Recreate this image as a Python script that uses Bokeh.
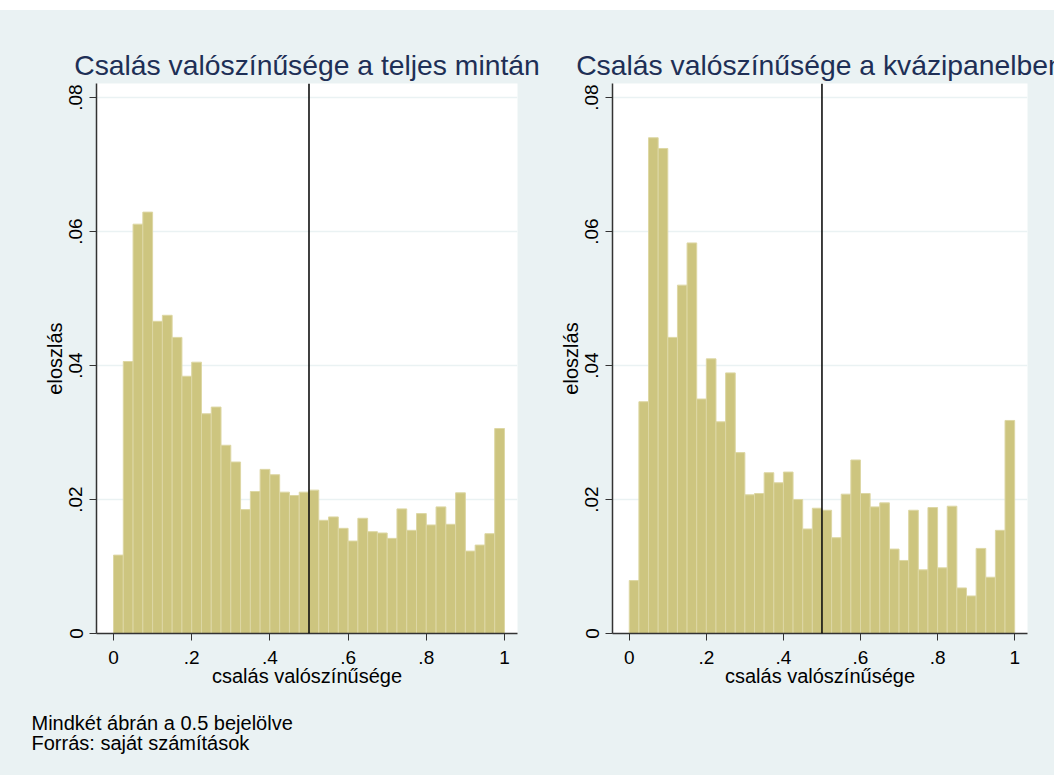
from bokeh.plotting import figure
from bokeh.models import Range1d, FixedTicker, Span, Title, ColumnDataSource, Spacer
from bokeh.layouts import row, column
from bokeh.embed import file_html
from bokeh.resources import INLINE

# ---- data ----
bin_width = 0.025
n_bins = 40

density_full = [0.0117, 0.0406, 0.0611, 0.0629, 0.0466, 0.0475, 0.0442, 0.0384,
                0.0405, 0.0328, 0.0338, 0.0281, 0.0256, 0.0185, 0.0212, 0.0245,
                0.0237, 0.0211, 0.0206, 0.0211, 0.0214, 0.0169, 0.0174, 0.0157,
                0.0138, 0.0172, 0.0152, 0.0150, 0.0142, 0.0186, 0.0154, 0.0179,
                0.0162, 0.0189, 0.0163, 0.0210, 0.0123, 0.0132, 0.0149, 0.0306]

density_panel = [0.0079, 0.0346, 0.0740, 0.0724, 0.0442, 0.0520, 0.0583, 0.0350,
                 0.0410, 0.0316, 0.0389, 0.0270, 0.0207, 0.0209, 0.0240, 0.0225,
                 0.0241, 0.0200, 0.0156, 0.0187, 0.0184, 0.0143, 0.0208, 0.0259,
                 0.0209, 0.0189, 0.0195, 0.0126, 0.0109, 0.0184, 0.0095, 0.0188,
                 0.0098, 0.0190, 0.0068, 0.0056, 0.0127, 0.0084, 0.0154, 0.0318]

x_ticks = [0, 0.2, 0.4, 0.6, 0.8, 1.0]
x_tick_labels = ["0", ".2", ".4", ".6", ".8", "1"]
y_ticks = [0, 0.02, 0.04, 0.06, 0.08]
y_tick_labels = ["0", ".02", ".04", ".06", ".08"]

titles = ["Csalás valószínűsége a teljes mintán", "Csalás valószínűsége a kvázipanelben"]
x_label = "csalás valószínűsége"
y_label = "eloszlás"
marker_at = 0.5
notes = ["Mindkét ábrán a 0.5 bejelölve", "Forrás: saját számítások"]

# ---- style ----
BG = "#EAF2F3"
BAR_FILL = "#CDC57F"
BAR_LINE = "#DDD7A4"
TITLE_COLOR = "#1E2F56"
FONT = "Liberation Sans"
TOP_BAND = 10
HEIGHT = 775 - TOP_BAND
FRAME_TOP = 83 - TOP_BAND
FRAME_H = 551


def make_panel(title, dens, width, mb_left, mb_right, footnotes=None):
    left = [i * bin_width for i in range(n_bins)]
    right = [(i + 1) * bin_width for i in range(n_bins)]
    src = ColumnDataSource(dict(left=left, right=right, top=dens, bottom=[0] * n_bins))

    p = figure(width=width, height=HEIGHT, output_backend="svg", toolbar_location=None,
               x_range=Range1d(-0.0435, 1.0333), y_range=Range1d(0, 0.0821),
               min_border_left=mb_left, min_border_right=mb_right,
               min_border_top=FRAME_TOP, min_border_bottom=HEIGHT - FRAME_TOP - FRAME_H)
    p.background_fill_color = "white"
    p.border_fill_color = BG
    p.outline_line_color = None

    p.quad(left="left", right="right", top="top", bottom="bottom", source=src,
           fill_color=BAR_FILL, line_color=BAR_LINE, line_width=1)

    p.add_layout(Span(location=marker_at, dimension="height", line_color="black",
                      line_width=1.5))

    p.title.text = title
    p.title.align = "center"
    p.title.text_font = FONT
    p.title.text_font_size = "28.3px"
    p.title.text_font_style = "normal"
    p.title.text_color = TITLE_COLOR
    p.title.standoff = 6

    p.xgrid.visible = False
    p.ygrid.grid_line_color = BG
    p.ygrid.grid_line_width = 1.5

    xa = p.xaxis[0]
    xa.ticker = FixedTicker(ticks=x_ticks)
    xa.major_label_overrides = dict(zip(x_ticks, x_tick_labels))
    xa.axis_label = x_label
    ya = p.yaxis[0]
    ya.ticker = FixedTicker(ticks=y_ticks)
    ya.major_label_overrides = dict(zip(y_ticks, y_tick_labels))
    ya.axis_label = y_label
    ya.major_label_orientation = "vertical"

    for ax in (xa, ya):
        ax.axis_line_color = "#333333"
        ax.axis_line_width = 1.5
        ax.major_tick_line_color = "#333333"
        ax.major_tick_out = 7
        ax.major_tick_in = 0
        ax.minor_tick_line_color = None
        ax.major_label_text_font = FONT
        ax.major_label_text_font_size = "19px"
        ax.major_label_text_color = "black"
        ax.axis_label_text_font = FONT
        ax.axis_label_text_font_size = "20px"
        ax.axis_label_text_font_style = "normal"
        ax.axis_label_text_color = "black"
    xa.major_label_standoff = 10
    xa.axis_label_standoff = -2
    ya.major_label_standoff = 7
    ya.axis_label_standoff = 1

    if footnotes:
        tt = Title(text="\n".join(footnotes), align="left", offset=-65, text_font=FONT,
                   text_font_size="20px", text_font_style="normal",
                   text_color="black", text_line_height=0.92, standoff=42)
        p.add_layout(tt, "below")
    return p


p1 = make_panel(titles[0], density_full, 556, 96, 39, notes)
p2 = make_panel(titles[1], density_panel, 498, 50, 27)

panels = row(p1, p2, spacing=0)
panels.styles = {"background-color": BG}
layout = column(Spacer(width=1054, height=TOP_BAND), panels, spacing=0)

open("out.html", "w").write(file_html(layout, INLINE))
